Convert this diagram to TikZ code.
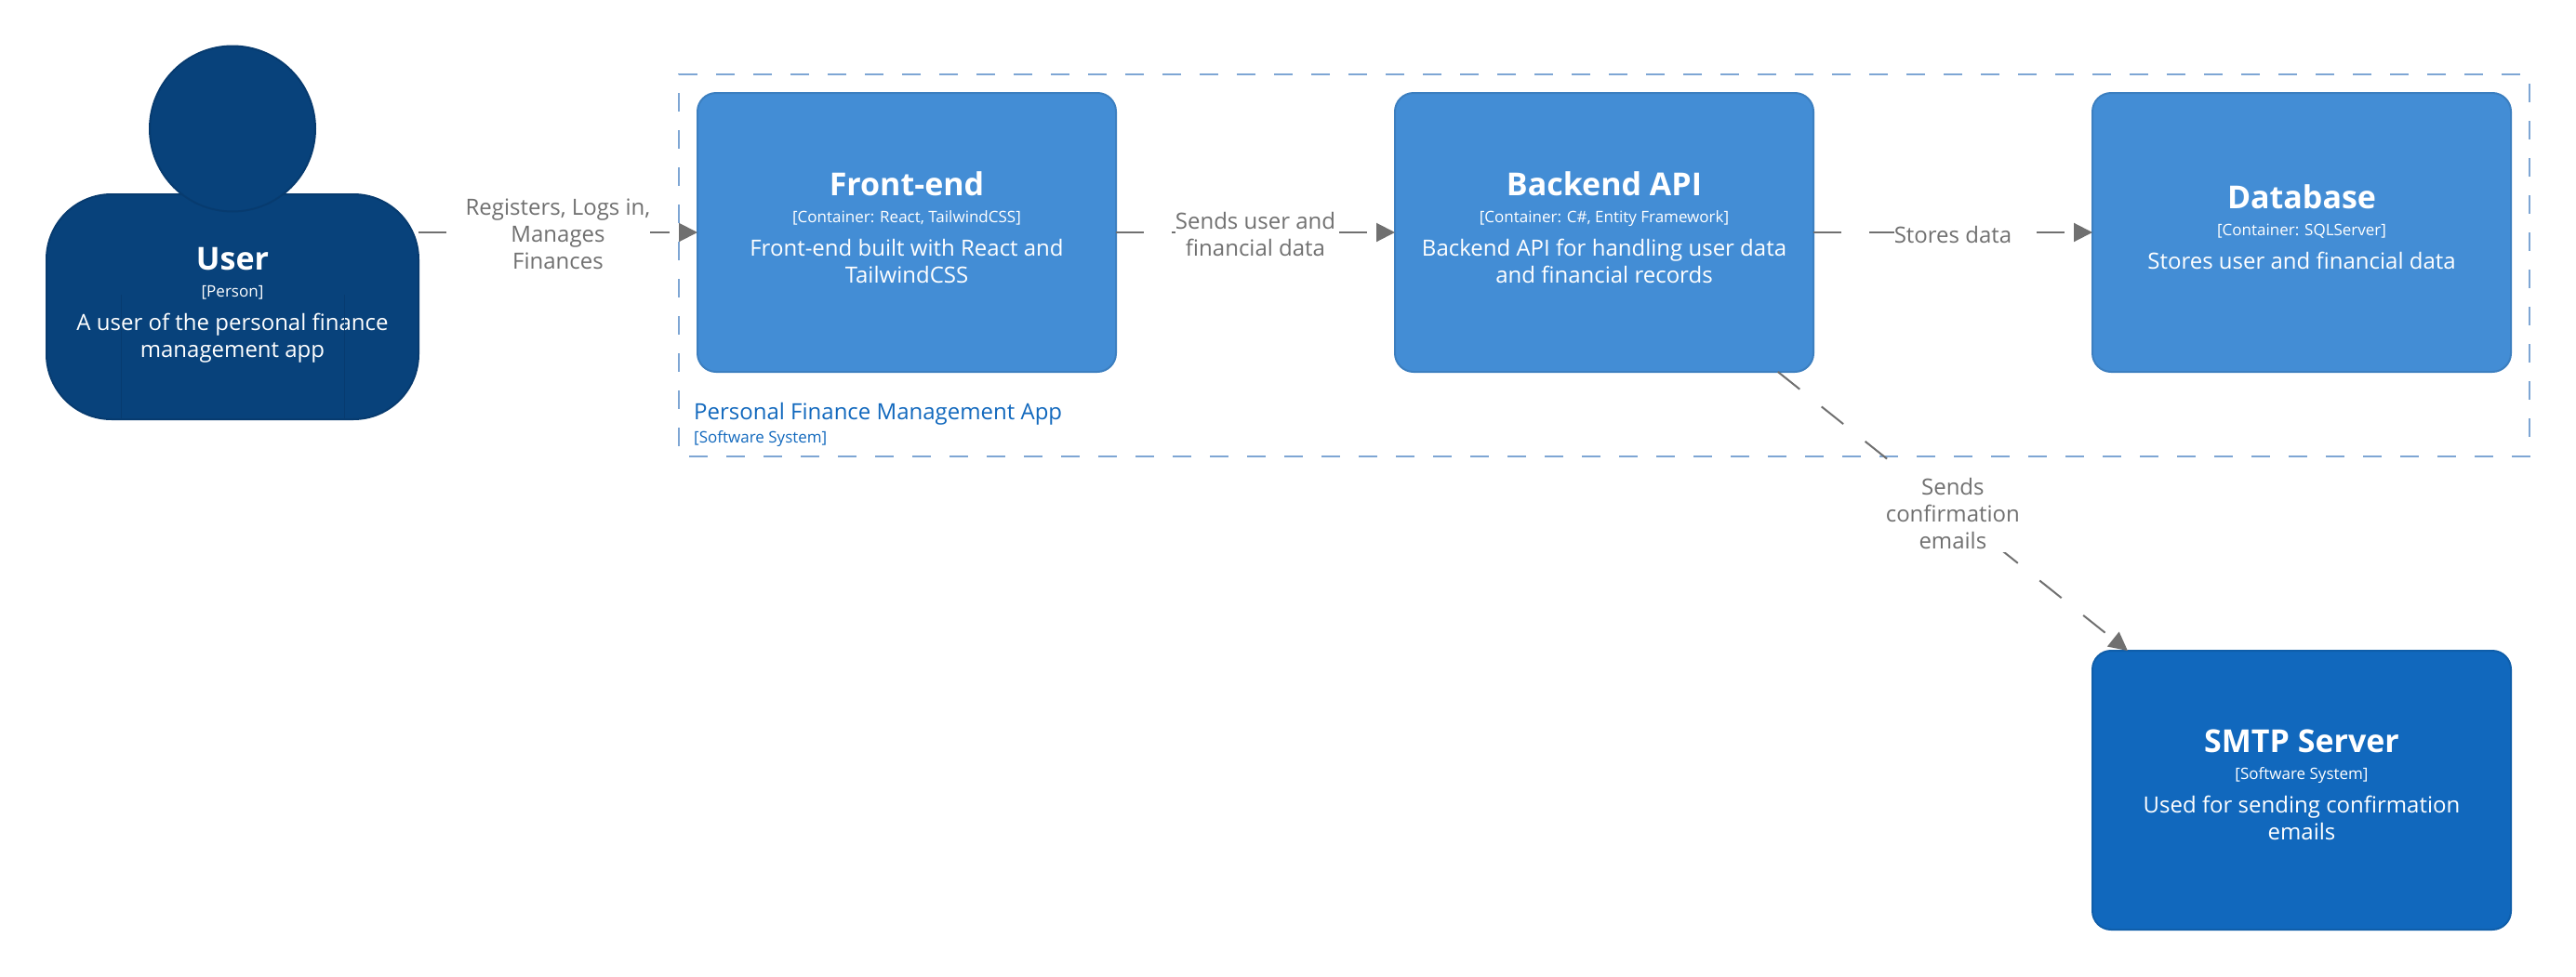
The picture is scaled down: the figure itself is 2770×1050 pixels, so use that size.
\documentclass[tikz,border=0pt]{standalone}
\usepackage{fontspec}
\setmainfont{Open Sans}
\usetikzlibrary{positioning,arrows.meta}
\definecolor{personblue}{HTML}{08427B}
\definecolor{personedge}{HTML}{073B6F}
\definecolor{contblue}{HTML}{438DD5}
\definecolor{contedge}{HTML}{3C7FC0}
\definecolor{sysblue}{HTML}{1168BD}
\definecolor{sysedge}{HTML}{0F5EAA}
\definecolor{linegrey}{HTML}{707070}
\definecolor{bordblue}{HTML}{7EA6D4}
\newcommand{\boxtext}[3]{{\fontsize{34}{35}\selectfont\bfseries #1}\\[0pt]{\fontsize{17}{22}\selectfont #2}\\[7pt]\fontsize{24}{29}\selectfont #3}

\begin{document}
\begin{tikzpicture}[
  x=1pt, y=-1pt,
  node distance=300pt and 300pt,
  box/.style={rounded corners=20pt, line width=2pt, outer sep=0pt, align=center, minimum width=450pt, text=white, text depth=11pt, font=\fontsize{24}{29}\selectfont},
  cont/.style={box, draw=contedge, fill=contblue, minimum height=300pt},
  sys/.style={box, draw=sysedge, fill=sysblue, minimum height=300pt},
  person/.style={box, draw=personedge, fill=personblue, rounded corners=70pt, minimum width=400pt, minimum height=242pt, text depth=9pt},
  head/.style={circle, draw=personedge, fill=personblue, line width=2pt, minimum size=178pt, inner sep=0pt},
  arm/.style={draw=personedge, line width=1pt},
  bound/.style={draw=bordblue, line width=2.5pt, outer sep=0pt, minimum width=1990pt, minimum height=411pt, dash pattern=on 20pt off 20pt, dash phase=29pt},
  arr/.style={-{Triangle[length=20pt, width=20pt]}, draw=linegrey, line width=2pt, dash pattern=on 30pt off 30pt},
  rel/.style={fill=white, inner xsep=0pt, inner ysep=4pt, yshift=-2pt, text=linegrey, align=center, font=\fontsize{24}{29}\selectfont}]
\useasboundingbox (0,0) rectangle (2770,1050);
\node[bound] (soft) at (1725,285.5) {};
\node[anchor=north west, inner sep=0pt, text=sysblue, align=left] (softname) at (746,433.5) {{\fontsize{24}{29}\selectfont Personal Finance Management App}\\[5pt]{\fontsize{17}{22}\selectfont [Software System]}};
\node[person] (user) at (250,330) {\boxtext{User}{[Person]}{A user of the personal finance\\management app}};
\node[head] (userhead) at (250,138.5) {};
\draw[arm] (user.south west) ++(80,-1) -- ++(0,-133);
\draw[arm] (user.south east) ++(-80,-1) -- ++(0,-133);
\node[cont] (front) at (975,250) {\boxtext{Front-end}{[Container: React, TailwindCSS]}{Front-end built with React and\\TailwindCSS}};
\node[cont, right=of front] (back) {\boxtext{Backend API}{[Container: C\#, Entity Framework]}{Backend API for handling user data\\and financial records}};
\node[cont, right=of back] (data) {\boxtext{Database}{[Container: SQLServer]}{Stores user and financial data}};
\node[sys, below=of data] (smtp) {\boxtext{SMTP Server}{[Software System]}{Used for sending confirmation\\emails}};
\draw[arr] (user.east |- front.west) -- node[rel] {Registers, Logs in,\\Manages\\Finances} (front.west);
\draw[arr] (front) -- node[rel] {Sends user and\\financial data} (back);
\draw[arr] (back) -- node[rel] {Stores data} (data);
\draw[arr] (back) -- node[rel] {Sends\\confirmation\\emails} (smtp);
\end{tikzpicture}
\end{document}
